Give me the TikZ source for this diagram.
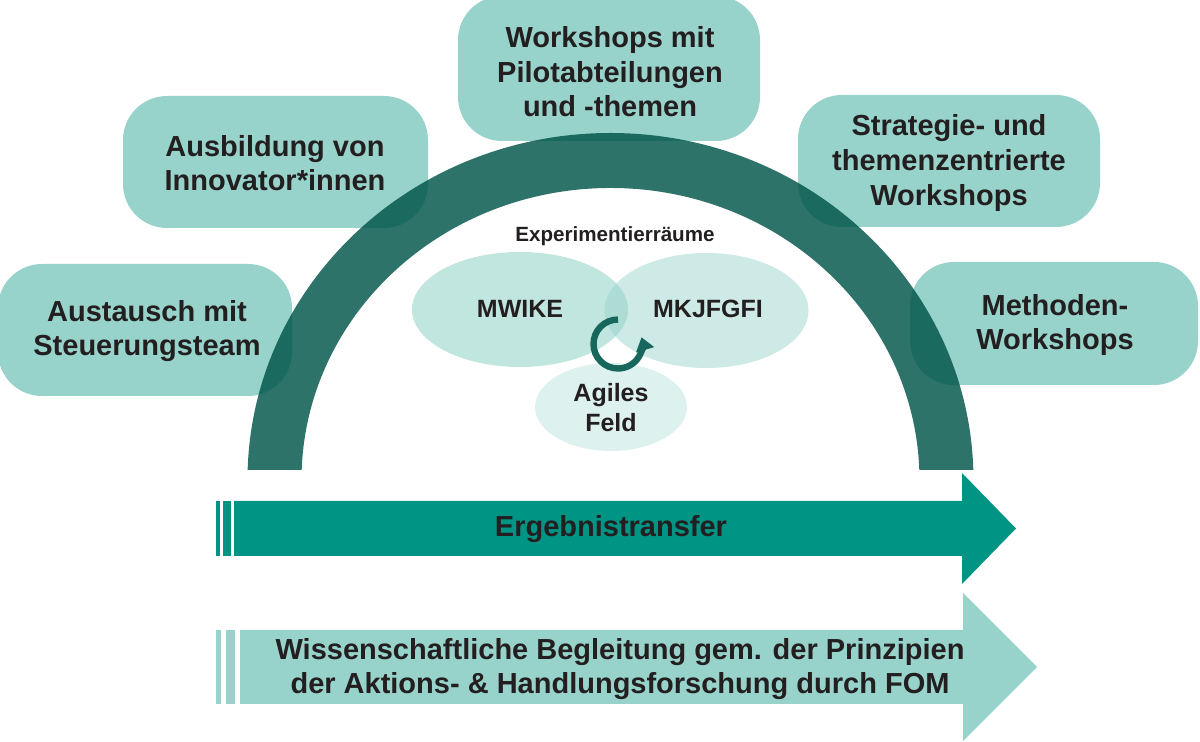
\documentclass[tikz,border=0pt]{standalone}
\usepackage{fontspec}
\setmainfont{Liberation Sans}
\usetikzlibrary{arrows.meta}
\definecolor{boxc}{RGB}{151,211,202}
\definecolor{archc}{RGB}{0,84,72}
\definecolor{ergc}{RGB}{0,148,133}
\definecolor{txt}{RGB}{35,31,32}
\definecolor{cyc}{RGB}{23,103,92}
\begin{document}
\begin{tikzpicture}[x=0.5pt,y=-0.5pt,
  lbl/.style={text=txt,font=\bfseries\fontsize{14.5}{17.3}\selectfont,align=center,inner sep=0pt},
  small/.style={text=txt,font=\bfseries\fontsize{12.5}{15}\selectfont,align=center,inner sep=0pt},
  tiny/.style={text=txt,font=\bfseries\fontsize{10.3}{12}\selectfont,inner sep=0pt},
  box/.style={fill=boxc,rounded corners=22pt},
  ell/.style={fill=boxc}]
\useasboundingbox (0,0) rectangle (1200,742);
% boxes
\fill[box] (-2,264) rectangle (292,396);
\fill[box] (123,96) rectangle (428,228);
\fill[box] (458,-4) rectangle (760,141);
\fill[box] (798,95) rectangle (1100,227);
\fill[box] (910,262) rectangle (1198,385);
% arch
\fill[archc,opacity=0.82] (247.65,470) arc[start angle=181.65,end angle=358.35,x radius=363,y radius=347]
  -- (919.3,470) arc[start angle=358.04,end angle=181.96,x radius=309,y radius=292] -- cycle;
% box labels
\node[lbl] (b1) at (147,331) {Austausch mit\\Steuerungsteam};
\node[lbl] (b2) at (275,163) {Ausbildung von\\Innovator*innen};
\node[lbl] (b3) at (610,72) {Workshops mit\\Pilotabteilungen\\und -themen};
\node[lbl] (b4) at (949,163) {Strategie- und\\themenzentrierte\\Workshops};
\node[lbl] (b5) at (1055,325) {Methoden-\\Workshops};
% experiment spaces
\fill[ell,opacity=0.6] (520,309.5) ellipse[x radius=108,y radius=57.5];
\fill[ell,opacity=0.48] (706.5,310.5) ellipse[x radius=102,y radius=57.5];
\fill[ell,opacity=0.33] (611,407) ellipse[x radius=76,y radius=44];
\node[tiny] (exp) at (615,236) {Experimentierräume};
\node[small] (mw) at (520,309) {MWIKE};
\node[small] (mk) at (708,309) {MKJFGFI};
\node[small] (ag) at (611,408) {Agiles\\Feld};
\draw[cyc,line width=3.2pt,-{Triangle[length=6.5pt,width=9pt]}] (618,319.5) arc[start angle=-90,end angle=-376,radius=24.5];
% Ergebnistransfer arrow
\fill[ergc] (234,501) -- (962,501) -- (962,473) -- (1016,528.5) -- (962,584) -- (962,556) -- (234,556) -- cycle;
\fill[ergc] (216,501) rectangle (220,556);
\fill[ergc] (223,501) rectangle (231,556);
\node[lbl] (erg) at (611,529) {Ergebnistransfer};
% lower arrow
\fill[boxc] (240,630) -- (963,630) -- (963,593) -- (1037,667) -- (963,741) -- (963,704) -- (240,704) -- cycle;
\fill[boxc] (216,630) rectangle (221,704);
\fill[boxc] (226,630) rectangle (235,704);
\node[lbl] (wiss) at (620,669) {Wissenschaftliche Begleitung gem. der Prinzipien\\der Aktions- \& Handlungsforschung durch FOM};
\end{tikzpicture}
\end{document}
